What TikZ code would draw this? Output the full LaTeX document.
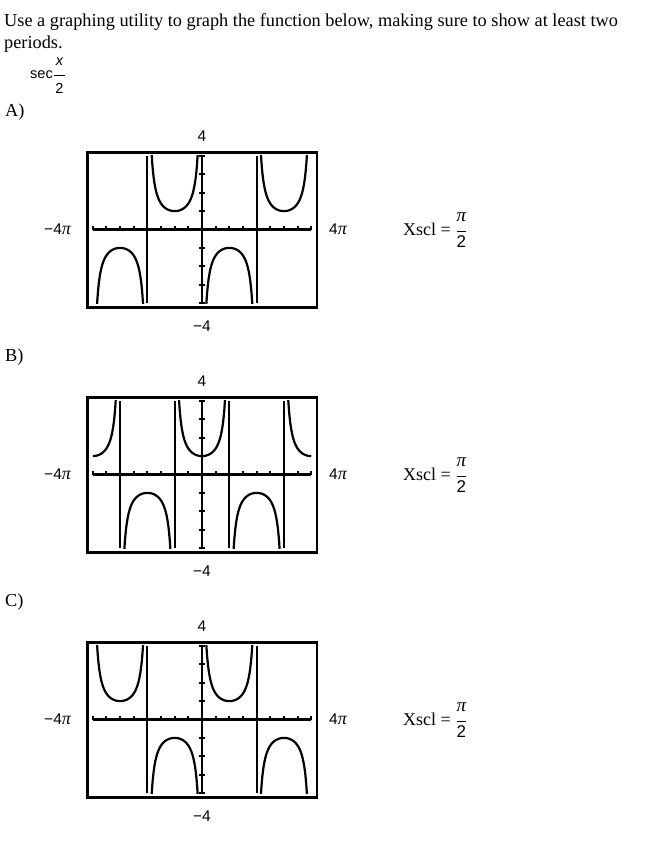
\documentclass[tikz,border=0pt]{standalone}
\usepackage{fontspec}
\setmainfont{Liberation Serif}
\newfontfamily\sfx{Liberation Sans}
\newcommand\calcgraph[3]{%
\begin{scope}[shift={(202,#1)}]
  \draw[boxline] (-114.5,-77) rectangle (115,78);
  \draw[axisline] (-109.5,0) -- (109,0);
  \draw[axisline] (0,-73.6) -- (0,73.6);
  \foreach \k in {-8,...,8} \draw[tickline] ({\k*13.656},0) -- ({\k*13.656},-3.6);
  \foreach \k in {-4,...,4} \draw[tickline] (-2.6,{\k*18.4}) -- (2.6,{\k*18.4});
  \node[axlab] (top#2) at (0,-93) {4};
  \node[axlab] (bot#2) at (0,97) {−4};
  \node[lab, anchor=base west] (left#2) at (-158,5) {{\sfx\fontsize{15.5}{18}\selectfont −4}{\itshape π}};
  \node[lab, anchor=base west] (right#2) at (127,5) {{\sfx\fontsize{15.5}{18}\selectfont 4}{\itshape π}};
  \node[lab, anchor=base west] (xscl#2) at (201,6) {Xscl = $\displaystyle\frac{\raisebox{2.5pt}{\fontsize{19}{20}\selectfont\itshape π}}{\hbox{\sfx\fontsize{17}{20}\selectfont 2}}$};
  \node[hdr, anchor=base west] (letter#2) at (-197,-113) {#2)};
  \begin{scope}[x=8.694pt, y=18.4pt]
    \clip (-12.566,-4) rectangle (12.566,4);
    #3
  \end{scope}
\end{scope}}
\begin{document}
\begin{tikzpicture}[x=1pt,y=-1pt,
  hdr/.style={inner sep=0pt, font=\fontsize{18.3}{22}\selectfont},
  lab/.style={inner sep=0pt, font=\fontsize{18}{21}\selectfont},
  axlab/.style={inner sep=0pt, font=\sfx\fontsize{15.5}{18}\selectfont},
  boxline/.style={line width=2.5pt},
  axisline/.style={line width=2.2pt},
  tickline/.style={line width=2pt},
  curve/.style={line width=2.2pt, line join=round},
  asym/.style={line width=2.2pt}]
\useasboundingbox (0,0) rectangle (653,841);
\node[hdr, anchor=base west] (line1) at (4,26) {Use a graphing utility to graph the function below, making sure to show at least two};
\node[hdr, anchor=base west] (line2) at (4,48) {periods.};
\node[inner sep=0pt, anchor=base west, font=\fontsize{14.5}{17}\selectfont] (func) at (30,78.5)
  {{\sfx sec}$\displaystyle\frac{\raisebox{3.4pt}{\makebox[11pt]{\sfx\itshape x}}}{\raisebox{-5pt}{\sfx 2}}$};
% A: -csc(x/2)
\calcgraph{229.5}{A}{%
  \draw[asym] (-6.283,-4) -- (-6.283,4);
  \draw[asym] (6.283,-4) -- (6.283,4);
  \draw[curve] plot[domain=-12.126:-6.723, samples=70, smooth] (\x,{-1/sin(deg(\x/2))});
  \draw[curve] plot[domain=-5.843:-0.44, samples=70, smooth] (\x,{-1/sin(deg(\x/2))});
  \draw[curve] plot[domain=0.44:5.843, samples=70, smooth] (\x,{-1/sin(deg(\x/2))});
  \draw[curve] plot[domain=6.723:12.126, samples=70, smooth] (\x,{-1/sin(deg(\x/2))});
}
% B: sec(x/2)
\calcgraph{474.5}{B}{%
  \draw[asym] (-9.425,-4) -- (-9.425,4);
  \draw[asym] (-3.1416,-4) -- (-3.1416,4);
  \draw[asym] (3.1416,-4) -- (3.1416,4);
  \draw[asym] (9.425,-4) -- (9.425,4);
  \draw[curve] plot[domain=-12.566:-9.865, samples=50, smooth] (\x,{1/cos(deg(\x/2))});
  \draw[curve] plot[domain=-8.985:-3.582, samples=70, smooth] (\x,{1/cos(deg(\x/2))});
  \draw[curve] plot[domain=-2.702:2.702, samples=70, smooth] (\x,{1/cos(deg(\x/2))});
  \draw[curve] plot[domain=3.582:8.985, samples=70, smooth] (\x,{1/cos(deg(\x/2))});
  \draw[curve] plot[domain=9.865:12.566, samples=50, smooth] (\x,{1/cos(deg(\x/2))});
}
% C: csc(x/2)
\calcgraph{719.5}{C}{%
  \draw[asym] (-6.283,-4) -- (-6.283,4);
  \draw[asym] (6.283,-4) -- (6.283,4);
  \draw[curve] plot[domain=-12.126:-6.723, samples=70, smooth] (\x,{1/sin(deg(\x/2))});
  \draw[curve] plot[domain=-5.843:-0.44, samples=70, smooth] (\x,{1/sin(deg(\x/2))});
  \draw[curve] plot[domain=0.44:5.843, samples=70, smooth] (\x,{1/sin(deg(\x/2))});
  \draw[curve] plot[domain=6.723:12.126, samples=70, smooth] (\x,{1/sin(deg(\x/2))});
}
\end{tikzpicture}
\end{document}
